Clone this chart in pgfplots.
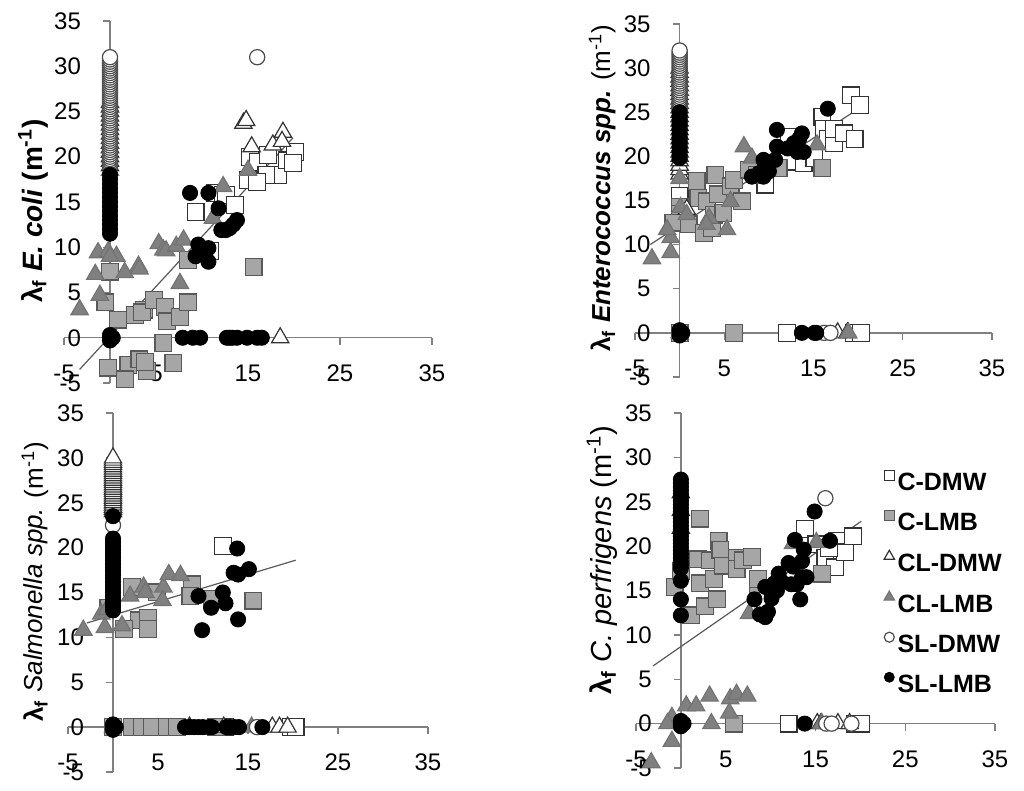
\documentclass[border=0pt]{standalone}
\usepackage{fontspec}
\setmainfont{Liberation Sans}
\usepackage{pgfplots}
\pgfplotsset{compat=1.18}

\newcommand\tickfont{\fontsize{12}{14}\selectfont}
\newcommand\legfont{\fontsize{12.5}{14}\selectfont\bfseries}

\pgfplotsset{
  panel/.style={
    scale only axis, clip=false,
    axis lines=middle,
    axis line style={-, draw=black!50, line width=0.7pt},
    xmin=-5, xmax=35, ymin=-5, ymax=35,
    xtick={-5,5,15,25,35}, ytick={-5,0,5,10,15,20,25,30,35},
    tick align=outside, major tick length=3.5pt,
    tick style={draw=black!50, line width=0.7pt},
    hide obscured x ticks=false, hide obscured y ticks=false,
    tick label style={font=\tickfont},
    xticklabel style={anchor=north, yshift=-6.5pt},
    yticklabel style={anchor=east, xshift=-7.5pt},
    /pgf/number format/assume math mode=true,
  },
  cdmw/.style={only marks, mark=square*, mark size=4.2pt,
    mark options={fill=white, draw=black!80, line width=0.6pt},
    legend image post style={mark size=2.4pt}},
  clmb/.style={only marks, mark=square*, mark size=4.2pt,
    mark options={fill=black!35, draw=black!65, line width=0.6pt},
    legend image post style={mark size=2.4pt}},
  cldmw/.style={only marks, mark=triangle*, mark size=5pt,
    mark options={fill=white, draw=black!80, line width=0.6pt},
    legend image post style={mark size=3pt}},
  cllmb/.style={only marks, mark=triangle*, mark size=5pt,
    mark options={fill=black!50, draw=black!55, line width=0.6pt},
    legend image post style={mark size=3pt}},
  sldmw/.style={only marks, mark=*, mark size=3.8pt,
    mark options={fill=white, draw=black!70, line width=0.6pt},
    legend image post style={mark size=2.5pt}},
  sllmb/.style={only marks, mark=*, mark size=3.8pt,
    mark options={fill=black, draw=black},
    legend image post style={mark size=2.5pt}},
  fit/.style={no marks, draw=black!65, line width=0.6pt, forget plot},
}

\begin{document}
\begin{tikzpicture}
\useasboundingbox (0,0) rectangle (512pt,395.5pt);

% ---- E. coli
\begin{axis}[panel, at={(32pt,204pt)}, anchor=south west, width=184pt, height=181pt,
  ylabel={\bfseries λ\textsubscript{f} \textit{E. coli} (m\textsuperscript{-1})},
  ylabel style={at={(axis description cs:-0.084,0.475)}, anchor=center, rotate=90,
    font=\fontsize{14}{16}\selectfont}]
\addplot[cdmw] coordinates {(9.3,13.9) (11.4,16.0) (12.3,15.8) (12.6,15.8) (13.6,14.7) (15.2,20.0) (16.1,19.4)
  (17.2,20.2) (18.3,18.0) (17.0,18.0) (15.0,17.4) (16.0,17.2) (19.2,19.6) (20.1,20.5) (19.9,19.3) (10.9,9.6)};
\addplot[clmb] coordinates {(0,7.3) (-0.5,3.9) (-0.2,-3.3) (0.9,2.0) (2.0,-3.0) (1.6,-4.6) (2.7,2.5) (3.2,-2.4)
  (3.7,3.1) (4.0,-3.7) (3.5,2.8) (3.8,-2.7) (4.8,4.2) (6.0,3.4) (6.2,1.8) (5.8,-0.6) (6.9,-2.8) (7.6,2.3)
  (8.5,3.9) (8.5,8.6) (15.6,7.8)};
\addplot[cldmw] coordinates {(0,19) (0,19.5) (0,20) (0,20.5) (0,21) (0,21.5) (0,22) (0,22.5) (0,23) (0,23.5)
  (0,24) (0,24.5) (0,25) (0,25.5) (0,26)
  (14.5,23.7) (14.8,24.0) (15.4,21.1) (17.7,21.3) (18.8,22.7) (18.7,21.7) (18.5,0)};
\addplot[cllmb] coordinates {(-3.3,3.1) (-1.6,7.0) (-1.3,9.4) (-1.1,4.7) (-0.2,9.5) (0.7,9.0) (0,9.0) (1.6,7.2)
  (3.1,7.9) (3.2,7.6) (5.3,10.4) (5.8,9.7) (6.1,9.6) (7.2,10.1) (8.0,10.8) (7.6,6.0) (11.2,13.2) (12.3,16.7)
  (15.0,18.5) (0,18.5)};
\addplot[sldmw] coordinates {(0,19.0) (0,19.25) (0,19.5) (0,19.75) (0,20.0) (0,20.25) (0,20.5) (0,20.75)
  (0,21.0) (0,21.25) (0,21.5) (0,21.75) (0,22.0) (0,22.25) (0,22.5) (0,22.75) (0,23.0) (0,23.25) (0,23.5)
  (0,23.75) (0,24.0) (0,24.25) (0,24.5) (0,24.75) (0,25.0) (0,25.25) (0,25.5) (0,25.75) (0,26.0) (0,26.25)
  (0,26.5) (0,26.75) (0,27.0) (0,27.25) (0,27.5) (0,27.75) (0,28.0) (0,28.25) (0,28.5) (0,28.75) (0,29.0)
  (0,29.25) (0,29.5) (0,29.75) (0,30.0) (0,30.25) (0,30.5) (0,30.75) (0,31.0) (16.0,31.0)};
\addplot[sllmb] coordinates {(0,11.5) (0,12.0) (0,12.5) (0,13.0) (0,13.5) (0,14.0) (0,14.5) (0,15.0) (0,15.5)
  (0,16.0) (0,16.5) (0,17.0) (0,17.5) (0,18.0) (0,0) (0.3,0) (0,-0.3) (0,0.3)
  (8.7,16.0) (10.7,16.0) (11.8,14.3) (12.1,11.9) (12.6,11.9) (13.0,12.1) (13.4,12.5) (13.8,13.0)
  (9.6,10.3) (9.3,9.0) (10.2,9.8) (10.7,9.9) (10.7,8.4)
  (7.9,0) (9.0,0) (9.8,0) (12.7,0) (13.0,0) (13.3,0) (13.8,0) (14.9,0) (16.0,0) (16.5,0)};
\addplot[fit] coordinates {(-3.3,-3.5) (19.9,22.1)};
\end{axis}

% ---- Enterococcus
\begin{axis}[panel, at={(317.5pt,207pt)}, anchor=south west, width=178.5pt, height=176.5pt,
  ylabel={\textbf{λ\textsubscript{f} \textit{Enterococcus spp.}} (m\textsuperscript{-1})},
  ylabel style={at={(axis description cs:-0.092,0.535)}, anchor=center, rotate=90,
    font=\fontsize{13}{15}\selectfont}]
\addplot[cdmw] coordinates {(0,15.5) (9.6,16.8) (12.2,22.2) (12.1,19.4) (13.9,19.2) (15.1,19.8) (16.0,24.5)
  (16.2,23.1) (16.6,22.0) (17.3,21.5) (17.3,23.1) (18.4,22.6) (19.6,22.0) (19.2,26.9) (20.2,25.8)
  (12.0,0) (19.5,0) (20.3,0)};
\addplot[clmb] coordinates {(0,14.3) (0,13.5) (0,12.8) (-0.7,12.5) (1.0,12.3) (1.9,17.2) (2.1,15.3) (3.1,14.9)
  (2.7,11.3) (3.6,11.9) (4.0,17.9) (4.3,15.7) (3.8,13.4) (4.9,13.6) (5.7,16.6) (6.1,17.3) (7.0,14.9) (7.8,18.5)
  (8.7,17.9) (11.1,18.7) (16.0,18.7) (6.1,0) (0,0)};
\addplot[cldmw] coordinates {(0,18) (0,18.5) (0,19) (0,19.5) (0,20) (0,20.5) (0,21) (0,21.5) (0,22) (0,22.5)
  (0,23) (0,23.5) (0,24) (0,24.5) (0,25) (0,25.5) (0,26) (0,26.5) (0,27) (0,27.5) (0,28) (0,28.5) (0,29)
  (0,29.5) (0,30) (0.8,14.0) (17.7,0) (18.8,0)};
\addplot[cllmb] coordinates {(-3.1,8.4) (-1.0,9.1) (-1.0,10.8) (-1.4,11.7) (0,17.5) (0.1,14.2) (0.8,13.4)
  (3.3,13.0) (3.0,12.3) (5.3,11.7) (5.7,14.9) (7.2,21.1) (8.1,19.8) (15.4,21.3) (18.9,0) (0,0)};
\addplot[sldmw] coordinates {(0,25.0) (0,25.25) (0,25.5) (0,25.75) (0,26.0) (0,26.25) (0,26.5) (0,26.75)
  (0,27.0) (0,27.25) (0,27.5) (0,27.75) (0,28.0) (0,28.25) (0,28.5) (0,28.75) (0,29.0) (0,29.25) (0,29.5)
  (0,29.75) (0,30.0) (0,30.25) (0,30.5) (0,30.75) (0,31.0) (0,31.25) (0,31.5) (0,31.75) (0,32.0)
  (16.2,0) (16.9,0)};
\addplot[sllmb] coordinates {(0,19.8) (0,20.2) (0,20.6) (0,21.0) (0,21.4) (0,21.8) (0,22.2) (0,22.6) (0,23.0)
  (0,23.4) (0,23.8) (0,24.2) (0,24.6) (0,25.0) (0,0) (0.3,0) (0,-0.3) (0,0.3)
  (8.1,17.7) (8.9,18.1) (9.4,17.7) (10.0,18.3) (9.4,19.6) (10.7,19.6) (10.9,23.0) (10.9,21.1) (12.1,20.9)
  (12.8,21.5) (13.4,22.0) (13.7,22.6) (13.9,20.5) (13.2,20.5) (16.6,25.4) (13.7,0) (15.1,0) (15.3,0)};
\addplot[fit] coordinates {(-3.3,10.0) (20.2,25.5)};
\end{axis}

% ---- Salmonella
\begin{axis}[panel, at={(34pt,9.5pt)}, anchor=south west, width=180pt, height=179.5pt,
  ylabel={\textbf{λ\textsubscript{f}} \textit{Salmonella spp.} (m\textsuperscript{-1})},
  ylabel style={at={(axis description cs:-0.092,0.53)}, anchor=center, rotate=90,
    font=\fontsize{13}{15}\selectfont}]
\addplot[cdmw] coordinates {(12.2,20.2) (19.8,0) (20.3,0) (12.5,0)};
\addplot[clmb] coordinates {(2.1,15.6) (2.9,11.9) (3.9,12.2) (3.9,10.9) (1.2,10.9) (4.9,15.0) (8.8,15.9)
  (8.6,14.6) (11.0,14.3) (15.6,14.1) (-0.5,13.3) (0,0) (2.1,0) (3.2,0) (4.3,0) (6.0,0) (7.1,0) (11.5,0)};
\addplot[cldmw] coordinates {(0,24.0) (0,24.25) (0,24.5) (0,24.75) (0,25.0) (0,25.25) (0,25.5) (0,25.75)
  (0,26.0) (0,26.25) (0,26.5) (0,26.75) (0,27.0) (0,27.25) (0,27.5) (0,27.75) (0,28.0) (0,28.25) (0,28.5)
  (0,28.75) (0,29.0) (0,29.25) (0,29.5) (0,29.75) (0,30.0) (17.7,0) (18.5,0) (19.4,0) (8.5,0) (12.3,0)};
\addplot[cllmb] coordinates {(-3.3,10.8) (-1.3,12.6) (-0.9,11.1) (-0.7,13.1) (1.0,11.3) (1.9,14.6) (3.4,15.6)
  (3.6,15.0) (5.6,15.6) (5.5,14.1) (6.2,17.0) (7.5,16.9) (15.4,0) (0,0)};
\addplot[sldmw] coordinates {(16.0,0) (0,22.5)};
\addplot[sllmb] coordinates {(0,13.0) (0,13.4) (0,13.8) (0,14.2) (0,14.6) (0,15.0) (0,15.4) (0,15.8) (0,16.2)
  (0,16.6) (0,17.0) (0,17.4) (0,17.8) (0,18.2) (0,18.6) (0,19.0) (0,19.4) (0,19.8) (0,20.2) (0,20.6) (0,21.0)
  (0,23.5) (0,0) (0.3,0) (0,-0.3) (0,0.3)
  (9.5,14.6) (9.9,10.8) (10.9,13.3) (12.2,15.0) (12.5,13.8) (13.8,19.9) (13.4,17.2) (13.9,17.0) (15.1,17.6)
  (13.9,12.0) (8.0,0) (8.5,0) (9.0,0) (9.5,0) (10.0,0) (10.7,0) (11.0,0) (12.6,0) (13.0,0) (13.5,0) (14.0,0)
  (16.6,0)};
\addplot[fit] coordinates {(-2.9,11.6) (20.3,18.6)};
\end{axis}

% ---- C. perfrigens
\begin{axis}[panel, at={(318pt,11.5pt)}, anchor=south west, width=179.5pt, height=177.5pt,
  ylabel={\textbf{λ\textsubscript{f}} \textit{C. perfrigens} (m\textsuperscript{-1})},
  ylabel style={at={(axis description cs:-0.095,0.586)}, anchor=center, rotate=90,
    font=\fontsize{14.5}{16}\selectfont},
  legend style={draw=none, fill=none, at={(0.69,0.84)}, anchor=north west, inner sep=0pt,
    row sep=6.8pt, font=\legfont, nodes={inner sep=1.5pt}},
  legend cell align=left,
  legend image code/.code={\draw[#1] plot coordinates {(0pt,4pt)};}]
\addplot[cdmw] coordinates {(13.8,21.9) (15.1,20.2) (16.1,18.7) (17.2,17.6) (17.4,20.6) (18.3,19.3) (19.2,21.1)
  (16.5,19.8) (12.0,0) (19.4,0) (20.1,0)};
\addplot[clmb] coordinates {(-0.7,15.4) (0,17.2) (1.1,12.2) (2.1,23.1) (1.9,18.5) (2.1,15.8) (3.2,18.4) (2.7,13.2)
  (3.7,16.3) (4.0,14.0) (4.2,20.6) (4.4,19.6) (4.7,17.8) (6.2,18.7) (6.2,17.4) (6.9,18.4) (7.9,18.8) (8.6,15.7)
  (8.6,16.3) (15.7,16.9) (5.9,0)};
\addplot[cldmw] coordinates {(15.2,0) (15.6,0) (17.5,0) (18.8,0) (0,22) (0,24) (0,26)};
\addplot[cllmb] coordinates {(7.6,12.4) (12.5,20.3) (15.1,20.4) (-1.0,0.7) (-1.5,0) (-1.0,-2.0) (0.6,2.0) (1.7,2.0)
  (3.2,3.1) (3.4,0) (5.5,2.8) (6.2,3.3) (7.4,3.1) (5.4,1.2) (15.7,0) (-3.3,-4.4)};
\addplot[sldmw] coordinates {(16.1,25.4) (16.2,0) (16.8,0) (19.0,0)};
\addplot[sllmb] coordinates {(0,12.2) (0,14.0) (0,16.1) (0,17.5) (0,17.9) (0,18.3) (0,18.7) (0,19.1) (0,19.5)
  (0,19.9) (0,20.3) (0,20.7) (0,21.1) (0,21.5) (0,21.9) (0,22.3) (0,22.7) (0,23.1) (0,23.5) (0,23.9) (0,24.3)
  (0,24.7) (0,25.1) (0,25.5) (0,25.9) (0,26.3) (0,26.7) (0,27.1) (0,27.5) (0,0) (0.3,0) (0,-0.3) (0,0.3)
  (8.2,14.0) (8.8,12.3) (9.4,12.0) (9.7,12.6) (9.4,15.4) (10.1,14.1) (10.7,15.0) (10.9,16.9) (12.0,18.1)
  (12.5,17.7) (12.7,20.7) (12.3,15.7) (12.9,15.7) (13.5,16.5) (13.5,18.3) (13.7,19.6) (13.3,14.0) (14.0,16.5)
  (14.9,23.9) (16.6,20.6) (13.8,0) (10.4,15.8) (11.2,16.0)};
\addplot[fit] coordinates {(-3.1,6.5) (20.1,22.8)};
\legend{C-DMW, C-LMB, CL-DMW, CL-LMB, SL-DMW, SL-LMB}
\end{axis}
\end{tikzpicture}
\end{document}
